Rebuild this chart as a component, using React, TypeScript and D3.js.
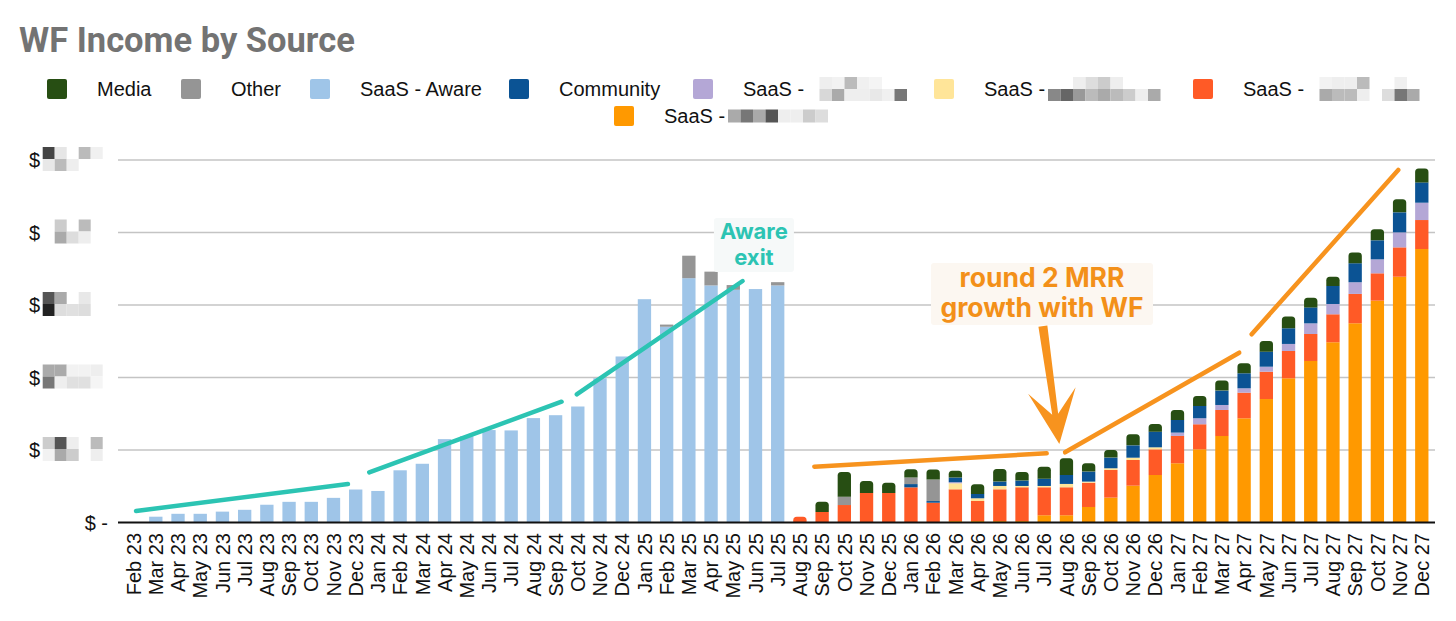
import React, { useEffect, useRef } from 'react';
import * as d3 from 'd3';

// ---- data (values in $k) ----
const months = [
  'Feb 23', 'Mar 23', 'Apr 23', 'May 23', 'Jun 23', 'Jul 23', 'Aug 23', 'Sep 23', 'Oct 23', 'Nov 23', 'Dec 23',
  'Jan 24', 'Feb 24', 'Mar 24', 'Apr 24', 'May 24', 'Jun 24', 'Jul 24', 'Aug 24', 'Sep 24', 'Oct 24', 'Nov 24', 'Dec 24',
  'Jan 25', 'Feb 25', 'Mar 25', 'Apr 25', 'May 25', 'Jun 25', 'Jul 25', 'Aug 25', 'Sep 25', 'Oct 25', 'Nov 25', 'Dec 25',
  'Jan 26', 'Feb 26', 'Mar 26', 'Apr 26', 'May 26', 'Jun 26', 'Jul 26', 'Aug 26', 'Sep 26', 'Oct 26', 'Nov 26', 'Dec 26',
  'Jan 27', 'Feb 27', 'Mar 27', 'Apr 27', 'May 27', 'Jun 27', 'Jul 27', 'Aug 27', 'Sep 27', 'Oct 27', 'Nov 27', 'Dec 27',
];

const saasOrange = [
  0, 0, 0, 0, 0, 0, 0, 0, 0, 0, 0,
  0, 0, 0, 0, 0, 0, 0, 0, 0, 0, 0, 0,
  0, 0, 0, 0, 0, 0, 0, 0, 0, 0, 0, 0,
  0, 0, 0.2, 0.2, 0.2, 0.2, 1.0, 1.0, 2.14, 3.43, 5.08, 6.55,
  8.17, 10.1, 11.93, 14.37, 17.03, 19.89, 22.28, 24.86, 27.48, 30.6, 33.9, 37.72,
];
const saasRed = [
  0, 0, 0, 0, 0, 0, 0, 0, 0, 0, 0,
  0, 0, 0, 0, 0, 0, 0, 0, 0, 0, 0, 0,
  0, 0, 0, 0, 0, 0, 0, 0.8, 1.45, 2.41, 4.07, 4.07,
  4.85, 2.73, 4.38, 2.77, 4.38, 4.66, 3.86, 3.86, 3.35, 3.82, 3.54, 3.54,
  3.77, 3.45, 3.59, 3.54, 3.77, 3.77, 3.72, 3.86, 4.05, 3.77, 4.05, 4.0,
];
const saasYellow = [
  0, 0, 0, 0, 0, 0, 0, 0, 0, 0, 0,
  0, 0, 0, 0, 0, 0, 0, 0, 0, 0, 0, 0,
  0, 0, 0, 0, 0, 0, 0, 0, 0, 0, 0, 0,
  0, 0, 0.83, 0.37, 0.46, 0.18, 0.18, 0.46, 0.15, 0.23, 0.32, 0.28,
  0, 0, 0, 0, 0, 0, 0, 0, 0, 0, 0, 0,
];
const saasLavender = [
  0, 0, 0, 0, 0, 0, 0, 0, 0, 0, 0,
  0, 0, 0, 0, 0, 0, 0, 0, 0, 0, 0, 0,
  0, 0, 0, 0, 0, 0, 0, 0, 0, 0, 0, 0,
  0, 0, 0.15, 0, 0, 0, 0, 0, 0, 0, 0, 0,
  0.46, 0.83, 0.69, 0.6, 0.69, 0.97, 1.47, 1.42, 1.61, 1.93, 2.07, 2.39,
];
const community = [
  0, 0, 0, 0, 0, 0, 0, 0, 0, 0, 0,
  0, 0, 0, 0, 0, 0, 0, 0, 0, 0, 0, 0,
  0, 0, 0, 0, 0, 0, 0, 0, 0, 0, 0, 0,
  0.45, 0.23, 0.64, 0.6, 0.6, 0.74, 1.0, 1.24, 1.38, 1.47, 1.7, 2.16,
  1.75, 1.7, 1.98, 2.07, 2.07, 2.16, 2.2, 2.48, 2.62, 2.62, 2.76, 2.8,
];
const saasAware = [
  0, 0.8, 1.2, 1.2, 1.5, 1.75, 2.45, 2.85, 2.85, 3.4, 4.55,
  4.35, 7.2, 8.1, 11.5, 11.9, 12.75, 12.7, 14.4, 14.8, 16.0, 19.9, 22.9,
  30.8, 27.0, 33.7, 32.7, 32.1, 32.2, 32.7, 0, 0, 0, 0, 0,
  0, 0, 0, 0, 0, 0, 0, 0, 0, 0, 0, 0,
  0, 0, 0, 0, 0, 0, 0, 0, 0, 0, 0, 0,
];
const other = [
  0, 0, 0, 0, 0, 0, 0, 0, 0, 0, 0,
  0, 0, 0, 0, 0, 0, 0, 0, 0, 0, 0, 0,
  0, 0.3, 3.1, 1.9, 0.65, 0, 0.45, 0, 0, 1.15, 0, 0,
  0.9, 2.97, 0, 0, 0, 0, 0, 0, 0, 0, 0, 0,
  0, 0, 0, 0, 0, 0, 0, 0, 0, 0, 0, 0,
];
const media = [
  0, 0, 0, 0, 0, 0, 0, 0, 0, 0, 0,
  0, 0, 0, 0, 0, 0, 0, 0, 0, 0, 0, 0,
  0, 0, 0, 0, 0, 0, 0, 0, 1.42, 3.4, 1.65, 1.42,
  1.15, 1.38, 0.94, 1.33, 1.74, 1.2, 1.66, 2.3, 1.15, 1.06, 1.52, 1.06,
  1.38, 1.38, 1.38, 1.38, 1.47, 1.61, 1.33, 1.28, 1.47, 1.52, 1.79, 1.93,
];

const yTicks = [0, 10, 20, 30, 40, 50];

// stack order, bottom to top
const stackKeys = ['saasOrange', 'saasRed', 'saasYellow', 'saasLavender', 'community', 'saasAware', 'other', 'media'];
const seriesValues: Record<string, number[]> = {
  saasOrange, saasRed, saasYellow, saasLavender, community, saasAware, other, media,
};
const colors: Record<string, string> = {
  media: '#274e13',
  other: '#959595',
  saasAware: '#9fc5e8',
  community: '#0b5394',
  saasLavender: '#b4a7d6',
  saasYellow: '#ffe599',
  saasRed: '#ff5a26',
  saasOrange: '#ff9900',
};

// legend (order as shown)
const legendKeys = ['media', 'other', 'saasAware', 'community', 'saasLavender', 'saasYellow', 'saasRed', 'saasOrange'];
const legendLabels = ['Media', 'Other', 'SaaS - Aware', 'Community', 'SaaS -', 'SaaS -', 'SaaS -', 'SaaS -'];
const legendX = [47, 181, 310, 509, 693, 934, 1193, 614];
const legendRow = [0, 0, 0, 0, 0, 0, 0, 1];

// pixelated (censored) parts of names and tick values: grey levels per cell
const legendMasks: Record<string, (number | null)[][]> = {
  saasLavender: [
    [null, 0xee, 0xf2, 0xbb, 0xf0, 0xf4, null, null],
    [null, 0xd8, 0xaa, 0xee, 0xee, 0xe8, 0xf0, 0x77],
  ],
  saasYellow: [
    [null, null, 0xee, 0xdd, 0xcc, 0xee, null, null, null],
    [0x88, 0x66, 0x99, 0xbb, 0xaa, 0xbb, 0xcc, 0xee, 0xaa],
  ],
  saasRed: [
    [null, 0xf2, 0xee, 0xee, 0xbb, null, null, 0xf0, null],
    [null, 0xaa, 0xbb, 0xbb, 0xee, null, 0xdd, 0x77, 0xaa],
  ],
  saasOrange: [
    [0xaa, 0x77, 0xaa, 0x55, 0xee, 0xee, 0xcc, 0xdd, null],
  ],
};
const tickMasks: Record<number, (number | null)[][]> = {
  50: [[0x44, 0xe6, null, 0xbb, 0xf0], [0xe8, 0xbb, 0xee, null, null]],
  40: [[null, 0xcc, null, 0xbb, null], [null, 0xaa, 0xdd, 0xee, null]],
  30: [[0x55, 0xaa, null, 0xe8, null], [0x22, 0xdd, 0xe0, 0xdd, null]],
  20: [[0xaa, 0xaa, 0xf2, 0xf2, 0xee], [0x77, 0xee, 0xe0, 0xe0, 0xf5]],
  10: [[0xcc, 0x55, 0xee, null, 0xbb], [0xf2, 0xaa, 0xcc, null, 0xee]],
};

// annotations, given as [month index, value]
const awareTrend: [number, number][][] = [
  [[0.11, 1.59], [9.65, 5.31]],
  [[10.61, 6.92], [19.27, 16.66]],
  [[19.95, 17.68], [27.42, 33.31]],
];
const wfTrend: [number, number][][] = [
  [[30.65, 7.7], [41.11, 9.54]],
  [[41.94, 9.68], [49.78, 23.42]],
  [[50.34, 25.96], [56.94, 48.62]],
];
const awareNote = { at: [27.93, 39.1], lines: ['Aware', 'exit'] };
const wfNote = { at: [40.9, 32.5], lines: ['round 2 MRR', 'growth with WF'] };
const wfArrow = { from: [40.94, 27.1], to: [41.68, 10.83] };

const TEAL = '#2cc4b3';
const ORANGE = '#f7931e';
const AXIS_FONT = '"Liberation Sans", Arial, sans-serif';
const NOTE_FONT = 'Inter, "Open Sans", sans-serif';

const width = 1456;
const height = 621;
const plotLeft = 118;
const plotRight = 1435;
const plotTop = 160;
const plotBottom = 522.5;

const topRounded = (x: number, y: number, w: number, h: number, r: number) => {
  const rr = Math.min(r, h, w / 2);
  return `M${x},${y + h}V${y + rr}Q${x},${y} ${x + rr},${y}H${x + w - rr}Q${x + w},${y} ${x + w},${y + rr}V${y + h}Z`;
};

const ChartSvg: React.FC = () => {
  const svgRef = useRef<SVGSVGElement>(null);

  useEffect(() => {
    if (!svgRef.current) return;
    const svg = d3.select(svgRef.current);
    svg.selectAll('*').remove();

    const x = d3.scaleBand<string>()
      .domain(months)
      .range([122.5, 1432.9])
      .paddingInner(0.4)
      .paddingOuter(0.2);
    const y = d3.scaleLinear().domain([0, 50]).range([plotBottom, plotTop]);
    const bw = x.bandwidth();
    const xi = d3.scaleLinear()
      .domain([0, months.length - 1])
      .range([(x(months[0]) ?? 0) + bw / 2, (x(months[months.length - 1]) ?? 0) + bw / 2]);

    // title
    svg.append('text')
      .attr('x', 19).attr('y', 52)
      .attr('font-family', 'Roboto, sans-serif')
      .attr('font-weight', 700)
      .attr('font-size', 34.5)
      .attr('fill', '#737373')
      .text('WF Income by Source');

    const drawMask = (g: d3.Selection<SVGGElement, unknown, null, undefined>, x0: number, y0: number, cells: (number | null)[][], cw: number, ch: number) => {
      cells.forEach((row, r) => row.forEach((v, c) => {
        if (v === null) return;
        g.append('rect')
          .attr('x', x0 + c * cw).attr('y', y0 + r * ch)
          .attr('width', cw).attr('height', ch)
          .attr('fill', d3.rgb(v, v, v).formatHex());
      }));
    };

    // legend
    const legend = svg.append('g');
    legendKeys.forEach((k, i) => {
      const cy = legendRow[i] === 0 ? 89 : 116;
      legend.append('rect')
        .attr('x', legendX[i]).attr('y', cy - 10)
        .attr('width', 20).attr('height', 20).attr('rx', 2)
        .attr('fill', colors[k]);
      legend.append('text')
        .attr('x', legendX[i] + 50).attr('y', cy)
        .attr('dy', '0.35em')
        .attr('font-family', AXIS_FONT)
        .attr('font-size', 20)
        .attr('fill', '#111')
        .text(legendLabels[i]);
      const mask = legendMasks[k];
      if (mask) {
        const ch = mask.length === 1 ? 13 : 12;
        drawMask(legend, legendX[i] + 114, cy - (mask.length * ch) / 2, mask, 12.5, ch);
      }
    });

    // gridlines + y labels
    const grid = svg.append('g');
    yTicks.forEach((t) => {
      if (t > 0) {
        grid.append('line')
          .attr('x1', plotLeft).attr('x2', plotRight)
          .attr('y1', y(t)).attr('y2', y(t))
          .attr('stroke', '#c4c4c4').attr('stroke-width', 1.3);
        grid.append('text')
          .attr('x', 29).attr('y', y(t))
          .attr('dy', '0.35em')
          .attr('font-family', AXIS_FONT)
          .attr('font-size', 20)
          .attr('fill', '#111')
          .text('$');
        drawMask(grid, 42.7, y(t) - 13, tickMasks[t], 12, 12);
      } else {
        grid.append('text')
          .attr('x', 108).attr('y', y(t))
          .attr('dy', '0.35em')
          .attr('text-anchor', 'end')
          .attr('font-family', AXIS_FONT)
          .attr('font-size', 20)
          .attr('fill', '#111')
          .text('$ -');
      }
    });

    // stacked bars
    const rows = months.map((m, i) => {
      const row: Record<string, number | string> = { month: m };
      stackKeys.forEach((k) => { row[k] = seriesValues[k][i]; });
      return row;
    });
    const stacked = d3.stack<Record<string, number | string>>()
      .keys(stackKeys)
      .value((d, k) => d[k] as number)(rows);

    const topKey = months.map((_, i) => {
      let last = '';
      stackKeys.forEach((k) => { if (seriesValues[k][i] > 0) last = k; });
      return last;
    });
    const projStart = months.indexOf('Aug 25');

    const bars = svg.append('g');
    stacked.forEach((layer) => {
      const key = layer.key;
      layer.forEach((seg, i) => {
        const v = seg[1] - seg[0];
        if (v <= 0) return;
        const x0 = x(months[i]) ?? 0;
        const y0 = y(seg[1]);
        const h = y(seg[0]) - y(seg[1]);
        if (i >= projStart && topKey[i] === key) {
          bars.append('path')
            .attr('d', topRounded(x0, y0, bw, h, 3.5))
            .attr('fill', colors[key]);
        } else {
          bars.append('rect')
            .attr('x', x0).attr('y', y0)
            .attr('width', bw).attr('height', h)
            .attr('fill', colors[key]);
        }
      });
    });

    // baseline
    svg.append('line')
      .attr('x1', plotLeft).attr('x2', plotRight)
      .attr('y1', y(0)).attr('y2', y(0))
      .attr('stroke', '#111').attr('stroke-width', 2);

    // x labels
    const xl = svg.append('g');
    months.forEach((m) => {
      const cx = (x(m) ?? 0) + bw / 2;
      xl.append('text')
        .attr('transform', `translate(${cx},533) rotate(-90)`)
        .attr('dy', '0.36em')
        .attr('text-anchor', 'end')
        .attr('font-family', AXIS_FONT)
        .attr('font-size', 20)
        .attr('fill', '#111')
        .text(m);
    });

    // trend annotations
    const line = d3.line<[number, number]>().x((d) => xi(d[0])).y((d) => y(d[1]));
    const notes = svg.append('g');
    awareTrend.forEach((seg) => {
      notes.append('path').attr('d', line(seg) ?? '')
        .attr('stroke', TEAL).attr('stroke-width', 4.5)
        .attr('stroke-linecap', 'round').attr('fill', 'none');
    });
    wfTrend.forEach((seg) => {
      notes.append('path').attr('d', line(seg) ?? '')
        .attr('stroke', ORANGE).attr('stroke-width', 4.5)
        .attr('stroke-linecap', 'round').attr('fill', 'none');
    });

    // arrow
    const ax0 = xi(wfArrow.from[0]);
    const ay0 = y(wfArrow.from[1]);
    const ax1 = xi(wfArrow.to[0]);
    const ay1 = y(wfArrow.to[1]);
    const len = Math.hypot(ax1 - ax0, ay1 - ay0);
    const ux = (ax1 - ax0) / len;
    const uy = (ay1 - ay0) / len;
    const nx = -uy;
    const ny = ux;
    const pt = (along: number, side: number) => [ax0 + ux * along + nx * side, ay0 + uy * along + ny * side];
    const arrowPts = [
      pt(0, -4.5), pt(len - 30, -3), pt(len - 54, -24), pt(len, 0),
      pt(len - 54, 24), pt(len - 30, 3), pt(0, 4.5),
    ];
    notes.append('path')
      .attr('d', `M${arrowPts.map((p) => p.join(',')).join('L')}Z`)
      .attr('fill', ORANGE);

    // text boxes
    const ax = xi(awareNote.at[0]);
    const ay = y(awareNote.at[1]);
    notes.append('rect')
      .attr('x', ax - 40).attr('y', ay - 21)
      .attr('width', 80).attr('height', 54).attr('rx', 3)
      .attr('fill', '#f6f9f9');
    awareNote.lines.forEach((t, i) => {
      notes.append('text')
        .attr('x', ax).attr('y', ay + i * 26)
        .attr('text-anchor', 'middle')
        .attr('font-family', NOTE_FONT)
        .attr('font-weight', 700)
        .attr('font-size', 22)
        .attr('fill', TEAL)
        .text(t);
    });

    const wx = xi(wfNote.at[0]);
    const wy = y(wfNote.at[1]);
    notes.append('rect')
      .attr('x', wx - 111).attr('y', wy - 24)
      .attr('width', 222).attr('height', 62).attr('rx', 3)
      .attr('fill', '#fcf7f1');
    wfNote.lines.forEach((t, i) => {
      notes.append('text')
        .attr('x', wx).attr('y', wy + i * 30)
        .attr('text-anchor', 'middle')
        .attr('font-family', NOTE_FONT)
        .attr('font-weight', 700)
        .attr('font-size', 26.5)
        .attr('fill', '#f39019')
        .text(t);
    });
  }, []);

  return <svg ref={svgRef} width={width} height={height} style={{ display: 'block', background: '#fff' }} />;
};

export default function App() {
  return (
    <div style={{ position: 'absolute', left: 0, top: 0, width, height, background: '#fff' }}>
      <ChartSvg />
    </div>
  );
}
